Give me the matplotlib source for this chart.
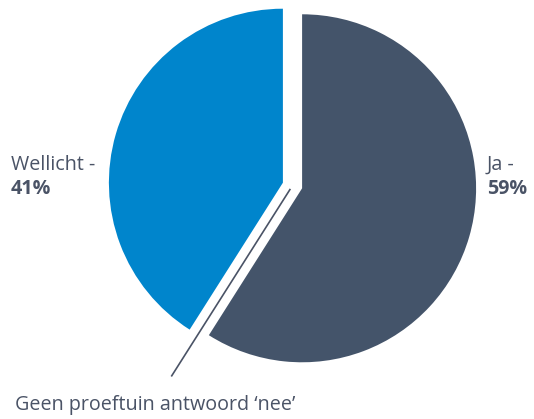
import matplotlib
matplotlib.use("Agg")
import matplotlib.pyplot as plt
import numpy as np

categories = ["Ja", "Geen proeftuin antwoord \u2018nee\u2019", "Wellicht"]
values = [59, 0, 41]
colors = ["#44546a", "#a5a5a5", "#0085cc"]

W, H = 534, 419
fig = plt.figure(figsize=(W / 100, H / 100), dpi=100)
ax = fig.add_axes([0, 0, 1, 1])

cx, cy = 292.5, H - 185.5
R = 174
wedges, _ = ax.pie(values, colors=colors, startangle=90, counterclock=False,
                   center=(cx, cy), radius=R, explode=[10, 0, 10],
                   wedgeprops=dict(linewidth=0))
ax.set_xlim(0, W)
ax.set_ylim(0, H)
ax.set_aspect("equal")
ax.axis("off")

txt = "#4a5366"
font = "Open Sans"
fs = 14.2

# leader line for zero slice
w0 = wedges[1]
ang = np.deg2rad(w0.theta1)
x1, y1 = cx + 4 * np.cos(ang), cy + 4 * np.sin(ang)
x2, y2 = cx + 1.30 * R * np.cos(ang), cy + 1.30 * R * np.sin(ang)
ax.plot([x1, x2], [y1, y2], color=txt, lw=1.2, solid_capstyle="butt")
ax.text(155, H - 405, categories[1], ha="center", va="center",
        fontsize=fs, color=txt, family=font)

# Ja label
ax.text(487, H - 165, f"{categories[0]} -", ha="left", va="center",
        fontsize=fs, color=txt, family=font)
ax.text(487, H - 189, f"{values[0]}%", ha="left", va="center",
        fontsize=fs, color=txt, family=font, weight="bold")
# Wellicht label
ax.text(11, H - 165, f"{categories[2]} -", ha="left", va="center",
        fontsize=fs, color=txt, family=font)
ax.text(11, H - 189, f"{values[2]}%", ha="left", va="center",
        fontsize=fs, color=txt, family=font, weight="bold")

fig.savefig("out.png", dpi=100)
